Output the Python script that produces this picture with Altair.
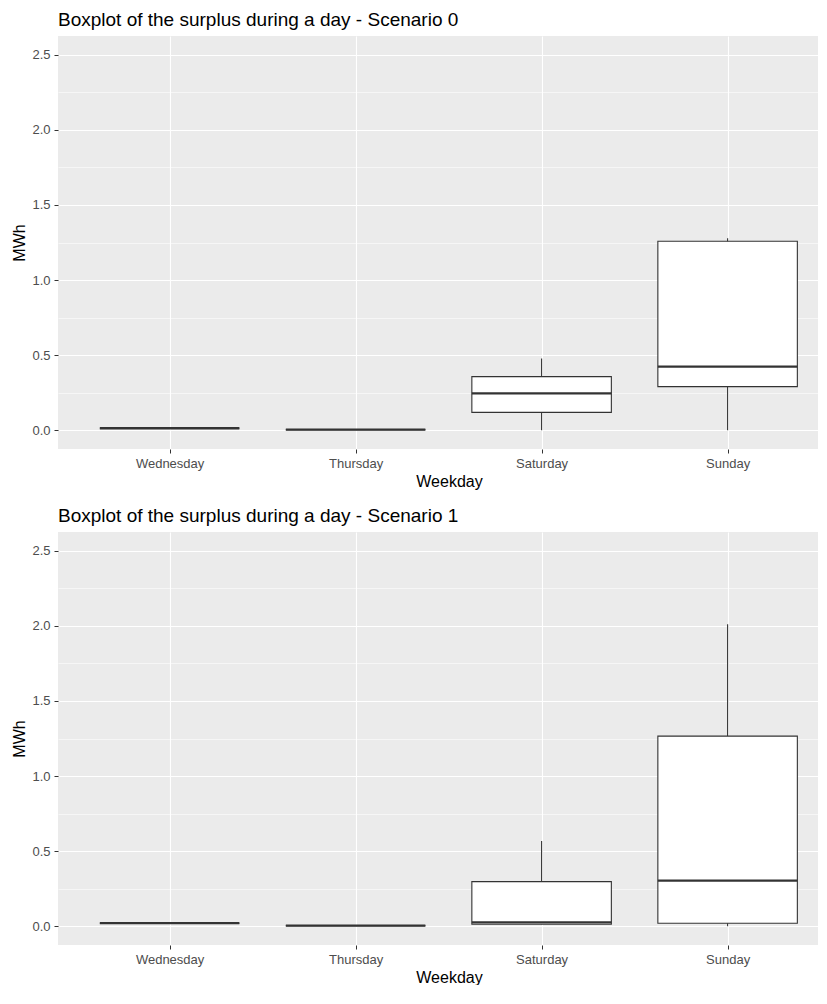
import json
import altair as alt
import pandas as pd

days = ["Wednesday", "Thursday", "Saturday", "Sunday"]

# Scenario 0 box statistics (MWh)
s0_lower = [0.013, 0.004, 0.0, 0.0]
s0_q1 = [0.013, 0.004, 0.119, 0.290]
s0_median = [0.013, 0.004, 0.245, 0.424]
s0_q3 = [0.013, 0.004, 0.357, 1.258]
s0_upper = [0.013, 0.004, 0.477, 1.278]

# Scenario 1 box statistics (MWh)
s1_lower = [0.020, 0.004, 0.013, 0.0]
s1_q1 = [0.020, 0.004, 0.013, 0.020]
s1_median = [0.020, 0.004, 0.026, 0.303]
s1_q3 = [0.020, 0.004, 0.297, 1.266]
s1_upper = [0.020, 0.004, 0.567, 2.010]

y_major = [0.0, 0.5, 1.0, 1.5, 2.0, 2.5]

FONT = "Liberation Sans"
GRID = "#FFFFFF"
INK = "#333333"

y_values = []
for v in y_major:
    y_values.append(v)
    if v != y_major[-1]:
        y_values.append(v + 0.25)

labels_js = json.dumps(days)


def panel(title, lower, q1, med, q3, upper):
    df = pd.DataFrame({
        "day": days,
        "pos": list(range(1, len(days) + 1)),
        "lower": lower, "q1": q1, "median": med, "q3": q3, "upper": upper,
    })
    base = alt.Chart(df).transform_calculate(
        left="datum.pos - 0.375", right="datum.pos + 0.375"
    )
    xscale = alt.Scale(domain=[0.4, 4.486], nice=False, zero=False)
    yscale = alt.Scale(domain=[-0.125, 2.625], nice=False, zero=False)
    xaxis = alt.Axis(
        values=[1, 2, 3, 4],
        labelExpr=f"{labels_js}[datum.value - 1]",
        title="Weekday", grid=True, gridColor=GRID, gridWidth=1.1,
        domain=False, tickColor=INK, tickSize=4, tickWidth=1,
        labelColor="#4D4D4D", labelFontSize=13, labelPadding=4,
        titleFontSize=16, titleColor="#000000", titleFontWeight="normal",
        titlePadding=3, titleX=391, labelFont=FONT, titleFont=FONT,
    )
    yaxis = alt.Axis(
        values=y_values,
        labelExpr="datum.value % 0.5 == 0 ? format(datum.value, '.1f') : ''",
        labelOverlap=False,
        title="MWh", grid=True, gridColor=GRID,
        gridWidth={"condition": {"test": "datum.value % 0.5 == 0", "value": 1.1}, "value": 0.55},
        tickOpacity={"condition": {"test": "datum.value % 0.5 == 0", "value": 1}, "value": 0},
        domain=False, tickColor=INK, tickSize=4, tickWidth=1,
        labelColor="#4D4D4D", labelFontSize=13, labelPadding=4,
        titleFontSize=16, titleColor="#000000", titleFontWeight="normal",
        titlePadding=4, labelFont=FONT, titleFont=FONT,
    )
    whisk = base.mark_rule(color=INK, strokeWidth=1.1).encode(
        x=alt.X("pos:Q", scale=xscale, axis=xaxis),
        y=alt.Y("lower:Q", scale=yscale, axis=yaxis),
        y2="upper:Q",
    )
    box = base.mark_bar(fill="#FFFFFF", stroke=INK, strokeWidth=1.1).encode(
        x="left:Q", x2="right:Q", y="q1:Q", y2="q3:Q",
    )
    median = base.mark_rule(color=INK, strokeWidth=2.3).encode(
        x="left:Q", x2="right:Q", y="median:Q",
    )
    return alt.layer(whisk, box, median).properties(
        width=760, height=413,
        title=alt.TitleParams(
            title, anchor="start", frame="group", fontSize=19, font=FONT,
            fontWeight="normal", color="#000000", offset=6,
        ),
    )


p0 = panel("Boxplot of the surplus during a day - Scenario 0",
           s0_lower, s0_q1, s0_median, s0_q3, s0_upper)
p1 = panel("Boxplot of the surplus during a day - Scenario 1",
           s1_lower, s1_q1, s1_median, s1_q3, s1_upper)

chart = alt.vconcat(p0, p1, spacing=18).properties(
    padding={"left": 3, "top": 3, "right": 0, "bottom": 0}
).configure(font=FONT).configure_view(fill="#EBEBEB", stroke=None)

chart.save("out.html", embed_options={"renderer": "svg", "actions": False})
